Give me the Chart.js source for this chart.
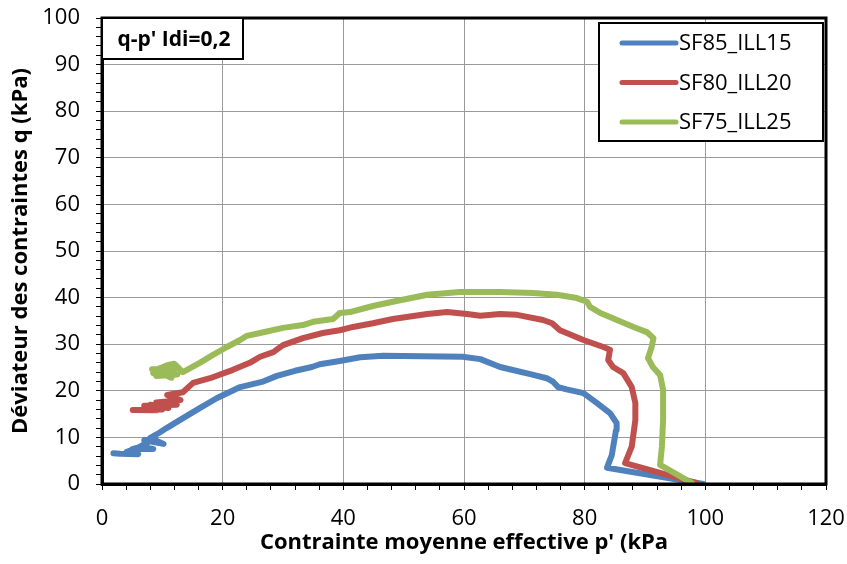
<!DOCTYPE html>
<html>
<head>
<meta charset="utf-8">
<script src="https://cdn.jsdelivr.net/npm/chart.js@4.4.0/dist/chart.umd.min.js"></script>
<style>
  body { margin: 0; background: #fff; }
  canvas { display: block; }
</style>
</head>
<body>
<canvas id="myChart" width="847" height="564"></canvas>
<script>
// p' (kPa) and q (kPa), from the start of shearing (q = 0)
const sf85P = [99.7, 83.7, 84.5, 85.2, 85.3, 84.2, 82, 79.8, 77, 75.6, 74.8, 73.7, 71.5, 66, 62.7, 59.8, 53, 46.6, 42.8, 39.4, 36.1, 34.8, 32, 29, 26.5, 22.9, 19, 16.2, 13.5, 10.7, 9.5, 8, 10.2, 7, 8.8, 6.3, 8.5, 5, 7, 4.1, 6, 3, 1.9];
const sf85Q = [0, 3.5, 6.2, 11.6, 13.1, 15.2, 17.4, 19.5, 20.3, 20.8, 21.9, 22.7, 23.4, 25.1, 26.8, 27.3, 27.4, 27.5, 27.2, 26.4, 25.7, 25.1, 24.3, 23.2, 21.9, 20.8, 18.4, 16.3, 14.2, 12, 11, 9.9, 8.6, 9.4, 9.8, 8, 7.5, 7.5, 8.2, 6.9, 6.4, 6.5, 6.6];

const sf80P = [98.6, 86.7, 87.8, 88.4, 88.4, 87.8, 86.4, 84.7, 83.9, 84.2, 83.1, 79.8, 75.9, 74.6, 73.1, 68.8, 66, 62.7, 60.5, 57.2, 53.9, 48.2, 44.9, 41.6, 39.4, 36.6, 33.3, 30, 28.4, 26.2, 24.5, 21.7, 17.9, 15.1, 13.4, 10.8, 13, 9, 12.4, 7, 11, 8, 10, 6, 9, 5.1];
const sf80Q = [0.2, 4.5, 8, 13.7, 17.4, 20.8, 23.8, 25.1, 26.6, 28.8, 29.4, 30.9, 33, 34.5, 35.2, 36.3, 36.5, 36.1, 36.5, 36.9, 36.5, 35.4, 34.5, 33.7, 33, 32.4, 31.3, 29.8, 28.3, 27.3, 26, 24.5, 22.7, 21.7, 19.7, 19.1, 18, 17.5, 17, 16.8, 16.3, 17, 16, 15.9, 15.8, 15.9];

const sf75P = [97.8, 92.5, 92.8, 93, 93, 92.5, 91.3, 90.5, 91.1, 91.4, 90.3, 88.1, 82.6, 80.9, 80.4, 78.7, 75.4, 71.5, 66, 59.3, 53.9, 48.2, 44.9, 41.1, 39.4, 38.3, 35, 33.3, 30, 26.2, 24, 22.9, 20.7, 18.4, 16.2, 13.4, 12, 10.8, 8.5, 12.5, 9, 12, 8.3, 11.5, 9.5, 8.5];
const sf75Q = [0.2, 4.1, 8, 13.7, 20.2, 23.4, 25.1, 27, 29.4, 31.3, 32.6, 33.7, 36.7, 38, 39.1, 39.9, 40.6, 41, 41.2, 41.2, 40.6, 39.1, 38.2, 36.9, 36.7, 35.4, 34.8, 34.1, 33.5, 32.4, 31.8, 30.9, 29.4, 27.7, 26, 24, 25.8, 25.5, 24.2, 23.5, 23.2, 24.6, 24.6, 22.8, 24.8, 23.8];

const seriesNames = ["SF85_ILL15", "SF80_ILL20", "SF75_ILL25"];
const seriesColors = ["#4F81BD", "#C0504D", "#9BBB59"];
const xTicks = [0, 20, 40, 60, 80, 100, 120];
const yTicks = [0, 10, 20, 30, 40, 50, 60, 70, 80, 90, 100];
const boxLabel = "q-p' Idi=0,2";

function toPoints(ps, qs) {
  return ps.map((p, i) => ({ x: p, y: qs[i] }));
}

const FONT = "'Open Sans', 'Liberation Sans', Arial, sans-serif";
Chart.defaults.font.family = FONT;
Chart.defaults.font.size = 22;
Chart.defaults.color = "#000";

// frame, label box and legend drawn like the spreadsheet chart
const decorPlugin = {
  id: "decor",
  afterDraw(chart) {
    const { ctx, chartArea: a } = chart;
    ctx.save();
    ctx.strokeStyle = "#000";
    ctx.lineWidth = 3;
    ctx.strokeRect(a.left, a.top, a.right - a.left, a.bottom - a.top);

    // label box top-left
    ctx.fillStyle = "#fff";
    ctx.fillRect(a.left, a.top, 141, 41);
    ctx.lineWidth = 2;
    ctx.strokeRect(a.left, a.top, 141, 41);
    ctx.fillStyle = "#000";
    ctx.font = "bold 21px " + FONT;
    ctx.textAlign = "center";
    ctx.textBaseline = "middle";
    ctx.fillText(boxLabel, a.left + 72, a.top + 22);

    // legend
    const lx = a.right - 227, ly = a.top + 5;
    ctx.fillStyle = "#fff";
    ctx.fillRect(lx, ly, 224, 118);
    ctx.strokeRect(lx, ly, 224, 118);
    ctx.font = "22px " + FONT;
    ctx.textAlign = "left";
    chart.data.datasets.forEach((ds, i) => {
      const y = ly + 20 + i * 39.5;
      ctx.strokeStyle = ds.borderColor;
      ctx.lineWidth = 5;
      ctx.lineCap = "round";
      ctx.beginPath();
      ctx.moveTo(lx + 23, y);
      ctx.lineTo(lx + 77, y);
      ctx.stroke();
      ctx.fillStyle = "#000";
      ctx.fillText(ds.label, lx + 80, y + 1);
    });
    ctx.restore();
  }
};

const data = {
  datasets: [
    { label: seriesNames[0], data: toPoints(sf85P, sf85Q), order: 2 },
    { label: seriesNames[1], data: toPoints(sf80P, sf80Q), order: 1 },
    { label: seriesNames[2], data: toPoints(sf75P, sf75Q), order: 0 },
  ].map((ds, i) => Object.assign(ds, {
    borderColor: seriesColors[i],
    backgroundColor: seriesColors[i],
    borderWidth: 6,
    pointRadius: 0,
    showLine: true,
    tension: 0,
    borderCapStyle: "round",
    borderJoinStyle: "round",
  })),
};

const config = {
  type: "scatter",
  data: data,
  options: {
    responsive: false,
    animation: false,
    layout: { padding: { top: 18, right: 21, left: 0, bottom: 0 } },
    plugins: {
      legend: { display: false },
      tooltip: { enabled: false },
    },
    scales: {
      x: {
        type: "linear",
        min: xTicks[0],
        max: xTicks[xTicks.length - 1],
        afterFit(scale) {
          scale.height = 80;
          scale.paddingLeft = 0;
          scale.paddingRight = 0;
        },
        ticks: {
          stepSize: 4,
          autoSkip: false,
          maxRotation: 0,
          padding: 16,
          callback: (v) => (xTicks.includes(v) ? v : ""),
        },
        grid: {
          color: (c) => (c.tick && xTicks.includes(c.tick.value) ? "#9a9a9a" : "transparent"),
          tickColor: "#000",
          tickLength: 6,
        },
        border: { color: "#000", width: 3 },
        title: {
          display: true,
          text: "Contrainte moyenne effective p' (kPa",
          font: { size: 22, weight: "bold" },
          padding: { bottom: 8 },
        },
      },
      y: {
        type: "linear",
        min: yTicks[0],
        max: yTicks[yTicks.length - 1],
        afterFit(scale) {
          scale.width = 102;
          scale.paddingTop = 0;
          scale.paddingBottom = 0;
        },
        ticks: {
          stepSize: 2,
          autoSkip: false,
          padding: 16,
          callback: (v) => (yTicks.includes(v) ? v : ""),
        },
        grid: {
          color: (c) => (c.tick && yTicks.includes(c.tick.value) ? "#9a9a9a" : "transparent"),
          tickColor: "#000",
          tickLength: 6,
        },
        border: { color: "#000", width: 3 },
        title: {
          display: true,
          text: "Déviateur des contraintes q (kPa)",
          font: { size: 22, weight: "bold" },
          padding: { top: 8 },
        },
      },
    },
  },
  plugins: [decorPlugin],
};

new Chart(document.getElementById("myChart"), config);
</script>
</body>
</html>
